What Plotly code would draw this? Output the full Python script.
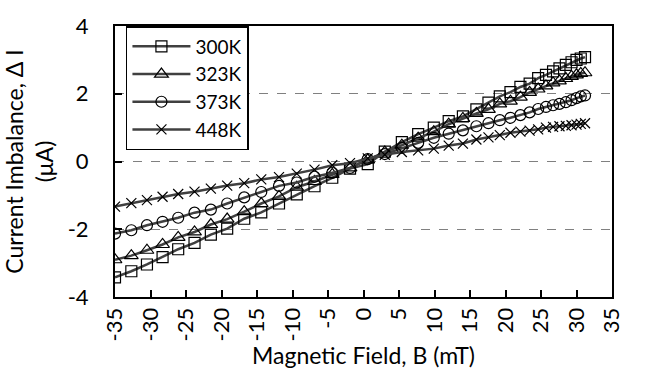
import plotly.graph_objects as go

# Data
field_mT = [-35, -32.7, -30.5, -28.3, -26.1, -23.8, -21.5, -19.2, -16.8, -14.4,
            -11.9, -9.4, -6.9, -4.4, -1.9, 0.6, 3.0, 5.4, 7.7, 9.9,
            12.0, 14.0, 15.9, 17.6, 19.2, 20.7, 22.1, 23.4, 24.6, 25.7,
            26.7, 27.6, 28.5, 29.3, 30.0, 30.6, 31.2]

i_300K = [-3.42, -3.24, -3.04, -2.82, -2.59, -2.40, -2.16, -1.98, -1.69, -1.50,
          -1.24, -0.97, -0.73, -0.48, -0.21, -0.08, 0.29, 0.57, 0.81, 1.00,
          1.19, 1.33, 1.54, 1.74, 1.92, 2.05, 2.20, 2.30, 2.46, 2.56,
          2.66, 2.75, 2.85, 2.93, 3.00, 3.04, 3.08]

i_323K = [-2.90, -2.78, -2.62, -2.45, -2.24, -2.08, -1.86, -1.70, -1.48, -1.24,
          -1.03, -0.76, -0.59, -0.38, -0.19, 0.05, 0.28, 0.48, 0.69, 0.88,
          1.10, 1.27, 1.42, 1.54, 1.70, 1.78, 1.90, 2.04, 2.14, 2.23,
          2.32, 2.38, 2.45, 2.51, 2.56, 2.60, 2.62]

i_373K = [-2.13, -2.03, -1.88, -1.78, -1.66, -1.51, -1.42, -1.24, -1.06, -0.90,
          -0.72, -0.62, -0.45, -0.34, -0.19, 0.07, 0.22, 0.40, 0.55, 0.70,
          0.82, 0.92, 1.04, 1.13, 1.22, 1.29, 1.37, 1.45, 1.55, 1.61,
          1.66, 1.70, 1.75, 1.81, 1.87, 1.92, 1.95]

i_448K = [-1.33, -1.23, -1.14, -1.04, -0.96, -0.89, -0.80, -0.71, -0.64, -0.53,
          -0.46, -0.36, -0.24, -0.11, -0.05, 0.09, 0.20, 0.28, 0.33, 0.38,
          0.47, 0.53, 0.65, 0.71, 0.78, 0.85, 0.88, 0.91, 0.95, 1.00,
          1.02, 1.04, 1.05, 1.07, 1.09, 1.11, 1.13]

series_names = ["300K", "323K", "373K", "448K"]
series_values = [i_300K, i_323K, i_373K, i_448K]
series_symbols = ["square-open", "triangle-up-open", "circle-open", "x-thin-open"]
series_sizes = [11, 12, 11, 10]

y_tickvals = [-4, -2, 0, 2, 4]
y_ticktext = ["-4", "-2", "0", "2", "4"]
x_tickvals = [-35, -30, -25, -20, -15, -10, -5, 0, 5, 10, 15, 20, 25, 30, 35]
x_ticktext = ["-35", "-30", "-25", "-20", "-15", "-10", "-5", "0", "5", "10",
              "15", "20", "25", "30", "35"]

FONT = "Lato"
LINE_COLOR = "#404040"

fig = go.Figure()
for name, vals, sym, sz in zip(series_names, series_values, series_symbols, series_sizes):
    fig.add_trace(go.Scatter(
        x=field_mT, y=vals, name=name, mode="lines+markers",
        line=dict(color=LINE_COLOR, width=2.5),
        marker=dict(symbol=sym, size=sz, color="black",
                    line=dict(color="black", width=1.2)),
    ))

fig.update_layout(
    width=649, height=370,
    margin=dict(l=110, r=37, t=16, b=72),
    paper_bgcolor="white", plot_bgcolor="white",
    font=dict(family=FONT, size=22, color="black"),
    showlegend=True,
    legend=dict(
        x=0.022, y=1.0, xanchor="left", yanchor="top",
        bgcolor="white", bordercolor="black", borderwidth=1.5,
        font=dict(family=FONT, size=19, color="black"),
        itemwidth=58, tracegroupgap=0,
    ),
    xaxis=dict(
        range=[-35, 35], tickvals=x_tickvals, ticktext=x_ticktext,
        tickangle=-90, ticks="inside", ticklen=7, tickwidth=1.5, tickcolor="black",
        showline=True, linewidth=2, linecolor="black", mirror=True,
        showgrid=False, zeroline=False,
        title=dict(text="Magnetic Field, B (mT)", standoff=0,
                   font=dict(family=FONT, size=23)),
        tickfont=dict(family=FONT, size=22),
    ),
    yaxis=dict(
        range=[-4, 4], tickvals=y_tickvals, ticktext=y_ticktext,
        ticks="inside", ticklen=7, tickwidth=1.5, tickcolor="black",
        showline=True, linewidth=2, linecolor="black", mirror=True,
        showgrid=True, gridcolor="#808080", griddash="dash", gridwidth=1,
        zeroline=False,
        title=dict(text="Current Imbalance, \u0394 I<br>(\u03bcA)", standoff=10,
                   font=dict(family=FONT, size=23)),
        tickfont=dict(family=FONT, size=22),
        ticklabelstandoff=20,
    ),
)

fig.write_html("out.html")
